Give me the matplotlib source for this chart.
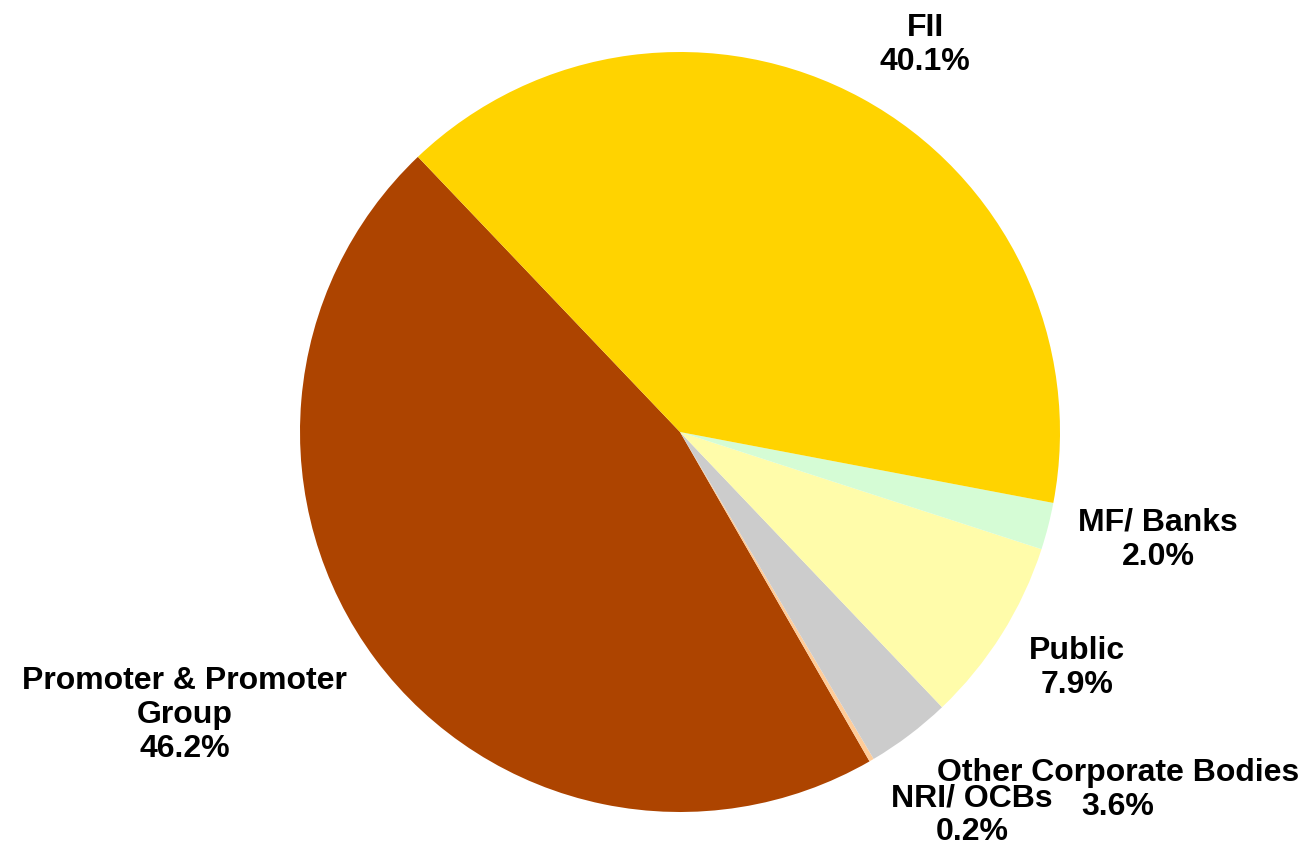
import matplotlib
matplotlib.use("Agg")
import matplotlib.pyplot as plt

categories = ["Promoter & Promoter\nGroup", "NRI/ OCBs", "Other Corporate Bodies",
              "Public", "MF/ Banks", "FII"]
values = [46.2, 0.2, 3.6, 7.9, 2.0, 40.1]
colors = ["#AD4400", "#FFCC99", "#CCCCCC", "#FFFCAA", "#D5FCD5", "#FFD300"]
label_pos = [(-1.303, -0.745), (0.768, -1.008), (1.153, -0.942),
             (1.045, -0.621), (1.258, -0.284), (0.645, 1.018)]

fig = plt.figure(figsize=(13.11, 8.5), dpi=100)
ax = fig.add_axes([300/1311, 38/850, 760/1311, 760/850])
ax.pie(values, colors=colors, startangle=133.6, counterclock=True,
       radius=1.0, center=(0, 0), wedgeprops=dict(linewidth=0))
ax.set_xlim(-1, 1)
ax.set_ylim(-1, 1)
ax.set_aspect("auto")
ax.axis("off")

for cat, val, (x, y) in zip(categories, values, label_pos):
    ax.text(x, y, f"{cat}\n{val:.1f}%", ha="center", va="center",
            fontsize=23, fontweight="bold", family="Liberation Sans",
            linespacing=1.17, clip_on=False)

fig.savefig("out.png", dpi=100)
